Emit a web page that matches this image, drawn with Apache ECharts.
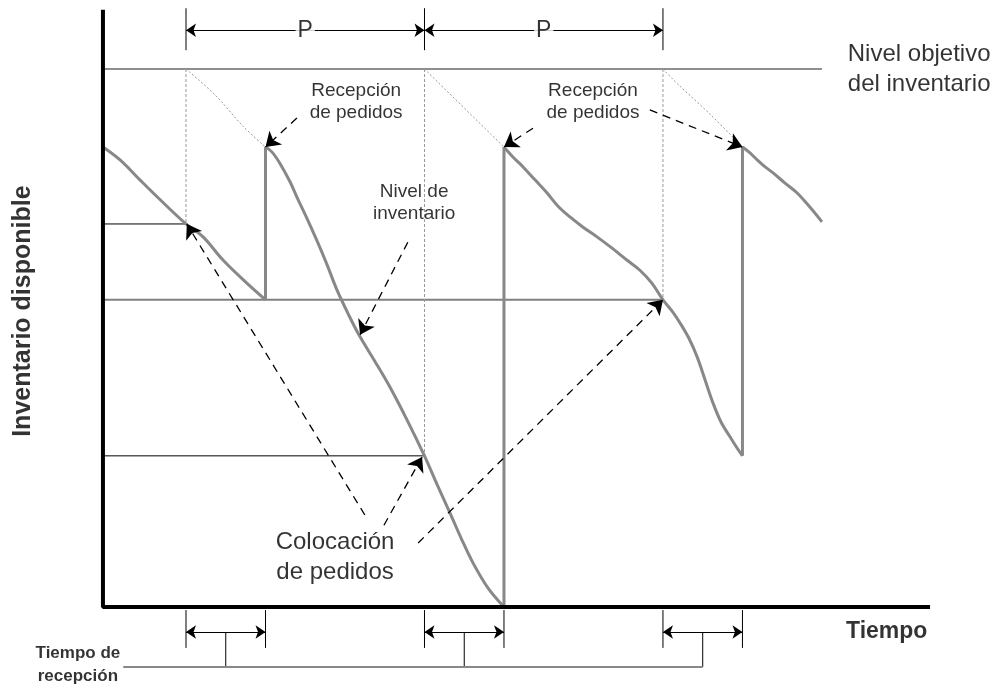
<!DOCTYPE html>
<html>
<head>
<meta charset="utf-8">
<script src="https://cdn.jsdelivr.net/npm/echarts@6/dist/echarts.min.js"></script>
<style>
  html, body { margin: 0; padding: 0; background: #fff; }
  #main { width: 1002px; height: 686px; }
</style>
</head>
<body>
<div id="main"></div>
<script>
// tiempo en periodos (revisión cada 6, entrega 2 después), inventario en % del nivel objetivo
var revisiones = [0, 6, 12];
var recepciones = [2, 8, 14];
var nivelObjetivo = 100;
var nivelesRevision = [71.2, 28.1, 57.1];

// curva del nivel de inventario, por tramos entre recepciones
var tramo1 = [[-2.09, 85.5], [-1.66, 83.1], [-1.16, 79.4], [-0.65, 75.7], [0, 71.2], [0.43, 68.8], [0.93, 64.5], [1.53, 60.2], [2, 57.1]];
var tramo2 = [[2, 85.5], [2.16, 84.6], [2.36, 82.5], [2.62, 79.0], [2.79, 76.2], [3.04, 72.3], [3.3, 68.0], [3.55, 63.6], [3.8, 58.9],
  [4.08, 54.5], [4.35, 50.6], [4.75, 45.7], [5.13, 40.9], [5.56, 34.8], [6, 28.1], [6.31, 22.9], [6.64, 17.5], [6.94, 12.5],
  [7.22, 8.2], [7.6, 3.5], [8, 0]];
var tramo3 = [[8, 85.5], [8.23, 83.6], [8.48, 81.8], [8.78, 79.4], [9.08, 77.0], [9.36, 74.5], [9.66, 72.5], [9.99, 70.6],
  [10.34, 68.8], [10.72, 66.7], [11.09, 64.5], [11.42, 62.6], [11.72, 60.2], [12, 57.1], [12.23, 55.0], [12.43, 52.8],
  [12.65, 50.0], [12.86, 46.5], [13.06, 42.2], [13.26, 37.9], [13.46, 34.4], [13.69, 31.6], [13.86, 29.6], [14, 28.1]];
var tramo4 = [[14, 85.5], [14.19, 84.4], [14.37, 83.1], [14.57, 81.8], [14.77, 80.7], [15.07, 78.8], [15.37, 77.0], [15.7, 74.3], [16, 71.6]];
var saltos = [[[2, 57.1], [2, 85.5]], [[8, 0], [8, 85.5]], [[14, 28.1], [14, 85.5]]];

// cantidad pedida (líneas punteadas desde el nivel objetivo)
var pedidos = [
  [[0, 100], [0.73, 95.2], [1.43, 89.4], [2, 85.5]],
  [[6, 100], [8, 85.5]],
  [[12, 100], [12.4, 97], [13.2, 91.5], [14, 85.5]]
];

// flechas de anotación [desde, hasta]
var flechas = [
  [[2.79, 90.9], [2, 85.5]],
  [[8.73, 89.0], [8, 85.5]],
  [[11.67, 92.4], [14, 85.5]],
  [[5.58, 67.8], [4.38, 50.6]],
  [[4.5, 17.1], [0.02, 71.2]],
  [[4.98, 15.2], [5.94, 27.9]],
  [[5.84, 11.9], [12, 57.1]]
];

var ejeT = [-2.09, 18.72];
var ejeQ = [0, 111];
var finObjetivo = 16;
var cotaP = 107.2;
var cotaL = -4.65;
var llave = -11.15;
var llaveInicio = -1.58;

var fuente = 'Liberation Sans, Arial, sans-serif';

function linea(data, color, width, type, smooth) {
  return {
    type: 'line', data: data, showSymbol: false, silent: true,
    smooth: smooth || false,
    lineStyle: { color: color, width: width, type: type || 'solid' },
    z: 2
  };
}

function texto(t, q, txt, size, bold, align, lh) {
  return {
    value: [t, q],
    label: {
      show: true, position: 'inside', formatter: txt, color: '#000',
      fontSize: size, fontWeight: bold ? 'bold' : 'normal', align: align || 'center',
      lineHeight: lh || Math.round(size * 1.2), fontFamily: fuente
    }
  };
}

var series = [];

// nivel objetivo y líneas de referencia
series.push(linea([[ejeT[0], nivelObjetivo], [finObjetivo, nivelObjetivo]], '#6a6a6a', 1.5));
series.push(linea([[ejeT[0], nivelesRevision[0]], [revisiones[0], nivelesRevision[0]]], '#000', 1));
series.push(linea([[ejeT[0], nivelesRevision[1]], [revisiones[1], nivelesRevision[1]]], '#000', 1));
series.push(linea([[ejeT[0], nivelesRevision[2]], [revisiones[2], nivelesRevision[2]]], '#808080', 2));

revisiones.forEach(function (t, i) {
  series.push(linea([[t, nivelObjetivo], [t, nivelesRevision[i]]], '#999', 1, [3, 2]));
});
pedidos.forEach(function (p) {
  series.push(linea(p, '#999', 1, [2, 2], 0.3));
});

// nivel de inventario
[tramo1, tramo2, tramo3, tramo4].forEach(function (tr) {
  series.push(linea(tr, '#888', 3, 'solid', 0.35));
});
saltos.forEach(function (s) {
  series.push(linea(s, '#888', 3));
});

// ejes
series.push(linea([[ejeT[0], ejeQ[1]], [ejeT[0], ejeQ[0]], [ejeT[1], ejeQ[0]]], '#000', 4));

// cotas P
revisiones.forEach(function (t) {
  series.push(linea([[t, 111.3], [t, 103.5]], '#000', 1));
});
// cotas tiempo de recepción
revisiones.concat(recepciones).forEach(function (t) {
  series.push(linea([[t, -0.56], [t, -7.6]], '#000', 1));
});
revisiones.forEach(function (t, i) {
  var m = (t + recepciones[i]) / 2;
  series.push(linea([[m, cotaL], [m, llave]], '#000', 1));
});
series.push(linea([[llaveInicio, llave], [(revisiones[2] + recepciones[2]) / 2, llave]], '#888', 2));

var cotas = [];
for (var i = 0; i < 2; i++) {
  cotas.push({ coords: [[revisiones[i], cotaP], [revisiones[i + 1], cotaP]] });
}
revisiones.forEach(function (t, i) {
  cotas.push({ coords: [[t, cotaL], [recepciones[i], cotaL]] });
});

series.push({
  type: 'lines', coordinateSystem: 'cartesian2d', silent: true,
  symbol: ['arrow', 'arrow'], symbolSize: 10,
  lineStyle: { color: '#000', width: 1, opacity: 1 },
  data: cotas, z: 3
});

series.push({
  type: 'lines', coordinateSystem: 'cartesian2d', silent: true,
  symbol: ['none', 'arrow'], symbolSize: 14,
  lineStyle: { color: '#000', width: 1.3, type: [8, 6], opacity: 1 },
  itemStyle: { color: '#000' },
  data: flechas.map(function (f) { return { coords: f }; }), z: 4
});

// textos
var etiquetaP1 = texto(3, cotaP, 'P', 23);
var etiquetaP2 = texto(9, cotaP, 'P', 23);
[etiquetaP1, etiquetaP2].forEach(function (e) {
  e.label.backgroundColor = '#fff';
  e.label.padding = [0, 2];
});

series.push({
  type: 'scatter', symbolSize: 0, silent: true, z: 5,
  data: [
    etiquetaP1,
    etiquetaP2,
    texto(16.65, 100, 'Nivel objetivo\ndel inventario', 24, false, 'left', 30),
    texto(4.28, 94, 'Recepción\nde pedidos', 19, false, 'center', 22),
    texto(10.24, 94, 'Recepción\nde pedidos', 19, false, 'center', 22),
    texto(5.74, 75.1, 'Nivel de\ninventario', 19, false, 'center', 22),
    texto(3.75, 9.3, 'Colocación\nde pedidos', 24, false, 'center', 30),
    texto(17.63, -4.5, 'Tiempo', 23, true),
    texto(-2.72, -10.8, 'Tiempo de\nrecepción', 17, true, 'center', 23)
  ]
});

series.push({
  type: 'scatter', symbolSize: 0, silent: true, z: 5,
  data: [{
    value: [-4.1, 55],
    label: {
      show: true, position: 'inside', formatter: 'Inventario disponible', rotate: 90,
      fontSize: 25, fontWeight: 'bold', color: '#000', fontFamily: fuente
    }
  }]
});

var myChart = echarts.init(document.getElementById('main'));
myChart.setOption({
  animation: false,
  backgroundColor: '#fff',
  grid: { left: 0, right: 0, top: 0, bottom: 0 },
  xAxis: { type: 'value', min: -4.68, max: 20.53, show: false },
  yAxis: { type: 'value', min: -14.68, max: 112.83, show: false },
  series: series
});
</script>
</body>
</html>
